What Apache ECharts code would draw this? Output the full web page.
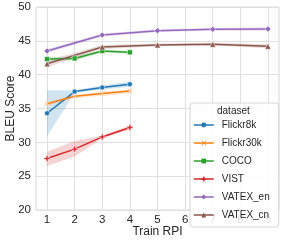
<!DOCTYPE html>
<html><head><meta charset="utf-8">
<script src="https://cdn.jsdelivr.net/npm/echarts@6/dist/echarts.min.js"></script>
<style>html,body{margin:0;padding:0;background:#fff}#c{width:283px;height:240px}</style>
</head><body><div id="c"></div>
<script>
const names = ['Flickr8k','Flickr30k','COCO','VIST','VATEX_en','VATEX_cn'];
const colors = ['#1f77b4','#ff7f0e','#2ca02c','#d62728','#9467bd','#8c564b'];
const xFlickr8k = [1,2,3,4];
const yFlickr8k = [34.3,37.5,38.1,38.6];
const loFlickr8k = [30.9,37.3,37.8,38.2];
const hiFlickr8k = [37.7,37.7,38.4,39.0];
const xFlickr30k = [1,2,3,4];
const yFlickr30k = [35.7,36.8,37.2,37.6];
const loFlickr30k = [35.4,36.6,36.9,37.3];
const hiFlickr30k = [35.9,37.0,37.4,37.8];
const xCOCO = [1,2,3,4];
const yCOCO = [42.3,42.4,43.5,43.3];
const loCOCO = [42.0,42.1,43.2,43.1];
const hiCOCO = [42.6,42.7,43.7,43.5];
const xVIST = [1,2,3,4];
const yVIST = [27.6,29.0,30.8,32.2];
const loVIST = [26.5,27.9,30.6,31.9];
const hiVIST = [28.6,30.2,31.0,32.5];
const xVATEXen = [1,3,5,7,9];
const yVATEXen = [43.5,45.85,46.5,46.7,46.75];
const loVATEXen = [43.2,45.6,46.3,46.5,46.5];
const hiVATEXen = [43.8,46.1,46.7,46.9,47.0];
const xVATEXcn = [1,3,5,7,9];
const yVATEXcn = [41.6,44.1,44.4,44.5,44.2];
const loVATEXcn = [41.1,43.8,44.2,44.3,43.9];
const hiVATEXcn = [42.1,44.4,44.6,44.7,44.5];
const xTicks = [1,2,3,4,5,6,7,8,9];

const sets = [
  [xFlickr8k,yFlickr8k,loFlickr8k,hiFlickr8k],
  [xFlickr30k,yFlickr30k,loFlickr30k,hiFlickr30k],
  [xCOCO,yCOCO,loCOCO,hiCOCO],
  [xVIST,yVIST,loVIST,hiVIST],
  [xVATEXen,yVATEXen,loVATEXen,hiVATEXen],
  [xVATEXcn,yVATEXcn,loVATEXcn,hiVATEXcn]
];
const Xpath = 'path://M0,1 L1,0 L5,4 L9,0 L10,1 L6,5 L10,9 L9,10 L5,6 L1,10 L0,9 L4,5 Z';
const Ppath = 'path://M3.5,0 H6.5 V3.5 H10 V6.5 H6.5 V10 H3.5 V6.5 H0 V3.5 H3.5 Z';
const symbols = ['circle', Xpath, 'rect', Ppath, 'diamond', 'triangle'];
const symSizes = [5,5,5,6,6,6];

function hexA(h,a){const r=parseInt(h.slice(1,3),16),g=parseInt(h.slice(3,5),16),b=parseInt(h.slice(5,7),16);return `rgba(${r},${g},${b},${a})`;}

const series = [];
sets.forEach((s,i)=>{
  const [xs,ys,lo,hi] = s;
  series.push({type:'custom', name:'band'+i, silent:true, z:1,
    data: xs.map((x,j)=>[x,lo[j],hi[j]]),
    renderItem:(params, api)=>{
      if (params.dataIndex !== 0) return null;
      const pts = [];
      xs.forEach((x,j)=>pts.push(api.coord([x,hi[j]])));
      for (let j=xs.length-1;j>=0;j--) pts.push(api.coord([xs[j],lo[j]]));
      return {type:'polygon', shape:{points:pts}, style:{fill:hexA(colors[i],0.2), stroke:null}};
    }});
});
sets.forEach((s,i)=>{
  const [xs,ys] = s;
  series.push({type:'line', name:names[i], data: xs.map((x,j)=>[x,ys[j]]),
    symbol:symbols[i], symbolSize:symSizes[i], showSymbol:true,
    itemStyle:{color:colors[i], borderColor:'#fff', borderWidth:0.5},
    lineStyle:{color:colors[i], width:1.5}, z:3});
});

const chart = echarts.init(document.getElementById('c'), null, {renderer:'canvas'});
chart.setOption({
  animation:false,
  backgroundColor:'#fff',
  grid:{left:36, right:4, top:7, bottom:30, outerBoundsMode:'none', containLabel:false,
    show:true, borderColor:'#d6d6d6', borderWidth:1},
  xAxis:{type:'value', min:0.6, max:9.4,
    name:'Train RPI', nameLocation:'middle', nameGap:16, nameMoveOverlap:false,
    nameTextStyle:{fontFamily:'Liberation Sans', fontSize:12, color:'#262626'},
    axisLine:{show:false}, axisTick:{show:false, customValues:xTicks},
    axisLabel:{fontFamily:'Liberation Sans', fontSize:11.5, color:'#262626', margin:4, customValues:xTicks},
    splitLine:{show:true, lineStyle:{color:'#e0e0e0', width:1}}},
  yAxis:{type:'value', min:20, max:50, interval:5,
    name:'BLEU Score', nameLocation:'middle', nameGap:19, nameMoveOverlap:false,
    nameTextStyle:{fontFamily:'Liberation Sans', fontSize:12, color:'#262626'},
    axisLine:{show:false}, axisTick:{show:false},
    axisLabel:{fontFamily:'Liberation Sans', fontSize:11.5, color:'#262626', margin:5},
    splitLine:{show:true, lineStyle:{color:'#e0e0e0', width:1}}},
  legend:{data:names, orient:'vertical', left:190, top:103,
    padding:[17,9,7,3], itemWidth:20, itemHeight:6, itemGap:8,
    itemStyle:{borderWidth:0}, lineStyle:{width:1.5},
    backgroundColor:'rgba(255,255,255,0.85)', borderColor:'#d6d6d6', borderWidth:1, borderRadius:3,
    textStyle:{fontFamily:'Liberation Sans', fontSize:10, color:'#262626', padding:[0,0,0,3]}},
  graphic:[{type:'text', left:217, top:106, z:100,
    style:{text:'dataset', fontFamily:'Liberation Sans', fontSize:10, fill:'#262626'}}],
  series: series
});
</script></body></html>
